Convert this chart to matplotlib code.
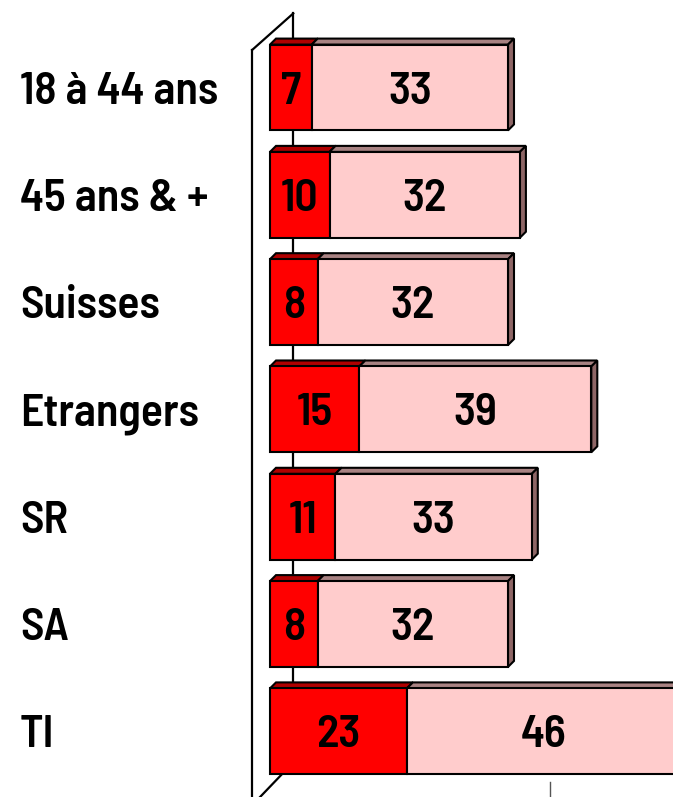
import matplotlib
matplotlib.use("Agg")
import matplotlib.pyplot as plt
from matplotlib.patches import Polygon, Rectangle
from matplotlib.transforms import blended_transform_factory

categories = ["18 à 44 ans", "45 ans & +", "Suisses", "Etrangers", "SR", "SA", "TI"]
first = [7, 10, 8, 15, 11, 8, 23]
second = [33, 32, 32, 39, 33, 32, 46]

front_colors = ["#FF0000", "#FFCCCC"]
top_colors = ["#B00000", "#A88282"]
side_colors = ["#B00000", "#8E6666"]

FONT = ["Barlow Semi Condensed", "Open Sans Condensed", "Liberation Sans", "DejaVu Sans"]
FS = 33
W = 600

fig = plt.figure(figsize=(6.73, 7.97), dpi=100)
ax = fig.add_axes([0, 0, 1, 1])
px_per_unit = 5.95
row_px = 107.3
ax.set_xlim(-270 / px_per_unit, 403 / px_per_unit)
ax.set_ylim(6.612, -0.8155)
ax.axis("off")

# depth of the 3d effect in data units
dx = 6 / px_per_unit
dy = -6 / row_px
bar_h = 0.80
# shift from the row centre to the text baseline (half the cap height)
base = 16 / row_px

# back wall on the left
wall_x0, wall_x1 = -3.0, 3.9
wall_top0, wall_top1 = -0.35, -0.69
wall_bot0, wall_bot1 = 6.62, 6.29
ax.plot([wall_x0, wall_x0], [wall_bot0, wall_top0], color="black", lw=1.6, zorder=1)
ax.plot([wall_x0, wall_x1], [wall_top0, wall_top1], color="black", lw=1.6, zorder=1)
ax.plot([wall_x1, wall_x1], [wall_top1, wall_bot1], color="black", lw=1.6, zorder=1)
ax.plot([wall_x0 + 0.5, wall_x1], [6.66, wall_bot1], color="black", lw=1.6, zorder=1)

# tick on the floor at 50
ax.plot([wall_x0 + 50, wall_x0 + 50], [6.47, 6.62], color="#555555", lw=1.0, zorder=1)

for i, (a, b) in enumerate(zip(first, second)):
    top = i - bar_h / 2
    left = 0
    for j, v in enumerate([a, b]):
        ax.add_patch(Rectangle((left, top), v, bar_h, facecolor=front_colors[j],
                               edgecolor="black", lw=1.5, zorder=3))
        ax.add_patch(Polygon([(left, top), (left + v, top), (left + v + dx, top + dy),
                              (left + dx, top + dy)], closed=True,
                             facecolor=top_colors[j], edgecolor="black", lw=1.5, zorder=2))
        ax.text(left + v / 2, i + base, str(v), ha="center", va="baseline", fontsize=FS,
                fontweight=W, fontstretch="condensed", family=FONT, zorder=4)
        left += v
    ax.add_patch(Polygon([(left, top), (left + dx, top + dy), (left + dx, top + bar_h + dy),
                          (left, top + bar_h)], closed=True,
                         facecolor=side_colors[1], edgecolor="black", lw=1.5, zorder=2))

trans = blended_transform_factory(fig.transFigure, ax.transData)
for i, name in enumerate(categories):
    ax.text(20 / 673, i + base, name, transform=trans, ha="left", va="baseline",
            fontsize=FS, fontweight=W, fontstretch="condensed", family=FONT)

fig.savefig("out.png", dpi=100)
